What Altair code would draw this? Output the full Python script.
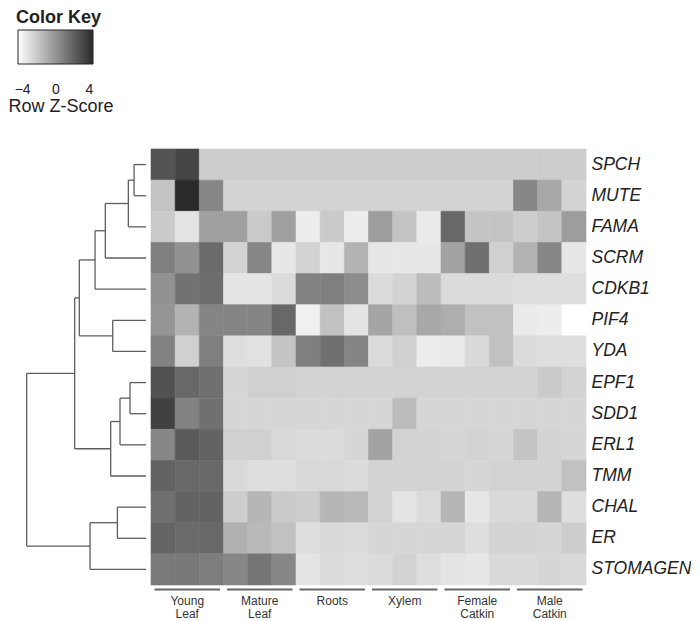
import altair as alt
import pandas as pd

# ---------------- data ----------------
genes = ["SPCH", "MUTE", "FAMA", "SCRM", "CDKB1", "PIF4", "YDA",
         "EPF1", "SDD1", "ERL1", "TMM", "CHAL", "ER", "STOMAGEN"]
tissues = ["Young\nLeaf", "Mature\nLeaf", "Roots", "Xylem",
           "Female\nCatkin", "Male\nCatkin"]
reps = 3

# row z-scores, 18 samples: Young leaf x3, Mature leaf x3, Roots x3, Xylem x3, Female catkin x3, Male catkin x3
SPCH = [2.2, 2.8, -2.3, -2.3, -2.3, -2.3, -2.3, -2.3, -2.3, -2.3, -2.3, -2.3, -2.3, -2.3, -2.3, -2.3, -2.3, -2.3]
MUTE = [-2.0, 4.0, 0.2, -2.5, -2.5, -2.5, -2.5, -2.5, -2.5, -2.5, -2.5, -2.5, -2.5, -2.5, -2.5, 0.2, -1.0, -2.5]
FAMA = [-2.2, -3.1, -0.7, -0.7, -2.2, -0.7, -3.4, -2.2, -3.4, -0.6, -2.0, -3.3, 1.4, -2.0, -2.0, -2.3, -2.0, -0.6]
SCRM = [0.5, -0.2, 1.3, -2.5, 0.2, -3.2, -2.5, -3.2, -1.4, -3.2, -3.2, -3.2, -0.8, 1.1, -2.4, -1.4, 0.2, -3.2]
CDKB1 = [-0.2, 1.0, 1.2, -3.1, -3.1, -2.8, 0.4, 0.5, 0.0, -2.8, -2.5, -1.7, -2.8, -2.8, -2.8, -2.9, -2.9, -2.9]
PIF4 = [-0.3, -1.4, 0.3, 0.3, 0.3, 1.4, -3.5, -1.9, -3.1, -0.9, -1.8, -1.0, -1.2, -1.9, -1.9, -3.3, -3.4, -4.0]
YDA = [0.4, -2.4, 0.5, -2.9, -3.0, -2.0, 0.5, 1.1, 0.3, -2.8, -2.4, -3.4, -3.3, -2.7, -1.9, -2.8, -2.9, -2.9]
EPF1 = [2.3, 1.4, 1.1, -2.6, -2.4, -2.4, -2.5, -2.5, -2.5, -2.5, -2.5, -2.5, -2.5, -2.5, -2.5, -2.5, -2.2, -2.5]
SDD1 = [3.0, 0.4, 1.1, -2.6, -2.6, -2.6, -2.6, -2.6, -2.6, -2.6, -1.7, -2.6, -2.6, -2.6, -2.6, -2.6, -2.6, -2.6]
ERL1 = [0.2, 2.0, 1.6, -2.4, -2.4, -2.7, -2.8, -2.8, -2.6, -0.8, -2.5, -2.5, -2.6, -2.5, -2.6, -2.0, -2.5, -2.6]
TMM = [1.6, 1.4, 1.4, -2.7, -2.9, -2.9, -2.7, -2.7, -2.8, -2.5, -2.5, -2.5, -2.5, -2.6, -2.5, -2.5, -2.5, -1.9]
CHAL = [1.1, 1.6, 1.6, -2.3, -1.5, -2.2, -2.3, -1.5, -1.6, -2.5, -3.1, -2.8, -1.5, -3.2, -2.7, -2.7, -1.5, -2.9]
ER = [1.5, 1.3, 1.4, -1.3, -1.6, -1.9, -2.9, -2.7, -2.8, -2.6, -2.6, -2.6, -2.6, -2.9, -2.5, -2.5, -2.6, -2.3]
STOMAGEN = [0.7, 0.8, 0.6, 0.2, 0.9, 0.2, -3.1, -2.8, -2.9, -2.8, -2.5, -2.9, -3.1, -3.2, -2.7, -2.7, -2.6, -2.7]

z_rows = {"SPCH": SPCH, "MUTE": MUTE, "FAMA": FAMA, "SCRM": SCRM, "CDKB1": CDKB1,
          "PIF4": PIF4, "YDA": YDA, "EPF1": EPF1, "SDD1": SDD1, "ERL1": ERL1,
          "TMM": TMM, "CHAL": CHAL, "ER": ER, "STOMAGEN": STOMAGEN}

# row dendrogram merges: (node, child a, child b, height relative to root)
merges = [
    ("n1", "SPCH", "MUTE", 0.100),
    ("n2", "n1", "FAMA", 0.148),
    ("n3", "n2", "SCRM", 0.341),
    ("n4", "n3", "CDKB1", 0.427),
    ("n5", "PIF4", "YDA", 0.279),
    ("n6", "n4", "n5", 0.559),
    ("n7", "EPF1", "SDD1", 0.134),
    ("n8", "n7", "ERL1", 0.218),
    ("n9", "n8", "TMM", 0.296),
    ("n10", "n6", "n9", 0.598),
    ("n11", "CHAL", "ER", 0.240),
    ("n12", "n11", "STOMAGEN", 0.469),
    ("n13", "n10", "n12", 1.000),
]

key_range = [-4.5, 4.5]
key_ticks = [-4, 0, 4]

# ---------------- tables ----------------
heat_rows = []
for g in genes:
    for ci, v in enumerate(z_rows[g]):
        heat_rows.append({"gene": g, "c0": ci, "c1": ci + 1, "z": v})
heat_df = pd.DataFrame(heat_rows)

grp_df = pd.DataFrame({
    "label": tissues,
    "start": [i * reps for i in range(len(tissues))],
    "end": [(i + 1) * reps for i in range(len(tissues))],
    "mid": [i * reps + reps / 2 for i in range(len(tissues))],
})

pos = {g: i + 0.5 for i, g in enumerate(genes)}
hgt = {g: 0.0 for g in genes}
segs = []
for name, a, b, h in merges:
    ya, yb = pos[a], pos[b]
    segs.append({"x1": h, "x2": h, "y1": ya, "y2": yb})
    segs.append({"x1": hgt[a], "x2": h, "y1": ya, "y2": ya})
    segs.append({"x1": hgt[b], "x2": h, "y1": yb, "y2": yb})
    pos[name] = (ya + yb) / 2
    hgt[name] = h
dendro_df = pd.DataFrame(segs)

# ---------------- charts ----------------
FONT = "Liberation Sans"
W, H = 435, 436
DW = 138
cscale = alt.Scale(domain=[-4, 4], range=["#ffffff", "#2a2a2a"])

heat = alt.Chart(heat_df).mark_rect(strokeWidth=0.6).encode(
    x=alt.X("c0:Q", scale=alt.Scale(domain=[0, 18], nice=False, zero=False), axis=None),
    x2="c1:Q",
    y=alt.Y("gene:N", sort=genes, scale=alt.Scale(paddingInner=0, paddingOuter=0),
            axis=alt.Axis(orient="right", title=None, ticks=False, domain=False,
                          labelPadding=5, labelFontSize=17.5, labelFontStyle="italic",
                          labelColor="#222222", labelFont=FONT)),
    color=alt.Color("z:Q", scale=cscale, legend=None),
    stroke=alt.Stroke("z:Q", scale=cscale, legend=None),
)

grp_rules = alt.Chart(grp_df).mark_rule(color="#666666", strokeWidth=2,
                                        xOffset=3.5, x2Offset=-3.5).encode(
    x=alt.X("start:Q", axis=None),
    x2="end:Q",
    y=alt.value(H + 4.5),
)

grp_text = alt.Chart(grp_df).mark_text(baseline="top", align="center", fontSize=12,
                                       lineHeight=13, lineBreak="\n", color="#333333",
                                       font=FONT).encode(
    x=alt.X("mid:Q", axis=None),
    y=alt.value(H + 10.5),
    text="label:N",
)

right = alt.layer(heat, grp_rules, grp_text).properties(width=W, height=H)

dendro = alt.Chart(dendro_df).mark_rule(color="#5e5e5e", strokeWidth=1.3).encode(
    x=alt.X("x1:Q", scale=alt.Scale(domain=[0, DW / 119.3], reverse=True, nice=False, zero=False), axis=None),
    x2="x2:Q",
    y=alt.Y("y1:Q", scale=alt.Scale(domain=[0, len(genes)], reverse=True, nice=False, zero=False), axis=None),
    y2="y2:Q",
).properties(width=DW, height=H)

key_df = pd.DataFrame({"lo": [key_range[0]], "hi": [key_range[1]]})
key = alt.Chart(key_df).mark_rect(
    fill=alt.Gradient(gradient="linear",
                      stops=[alt.GradientStop(color="#ffffff", offset=0),
                             alt.GradientStop(color="#2a2a2a", offset=1)],
                      x1=0, x2=1, y1=0, y2=0),
    stroke="#222222", strokeWidth=1,
).encode(
    x=alt.X("lo:Q", scale=alt.Scale(domain=[-5.7, 4.5], nice=False, zero=False),
            axis=alt.Axis(values=key_ticks, ticks=False, tickSize=0, domain=False, grid=False,
                          labelFontSize=14, labelPadding=18, labelColor="#222222", labelFont=FONT,
                          title="Row Z-Score", titleFontSize=18, titleFontWeight="normal",
                          titleColor="#222222", titleFont=FONT,
                          titleX=0, titleAlign="left", titlePadding=1)),
    x2="hi:Q",
).properties(width=85, height=34,
             title=alt.Title("Color Key", fontSize=18, fontWeight="bold", anchor="start",
                             dx=8, offset=3, color="#222222", font=FONT))

chart = alt.vconcat(
    key,
    alt.hconcat(dendro, right, spacing=3),
    spacing=33,
).properties(padding=0).configure(font=FONT).configure_view(strokeWidth=0)

chart.save("out.html", embed_options={"renderer": "svg", "actions": False})
